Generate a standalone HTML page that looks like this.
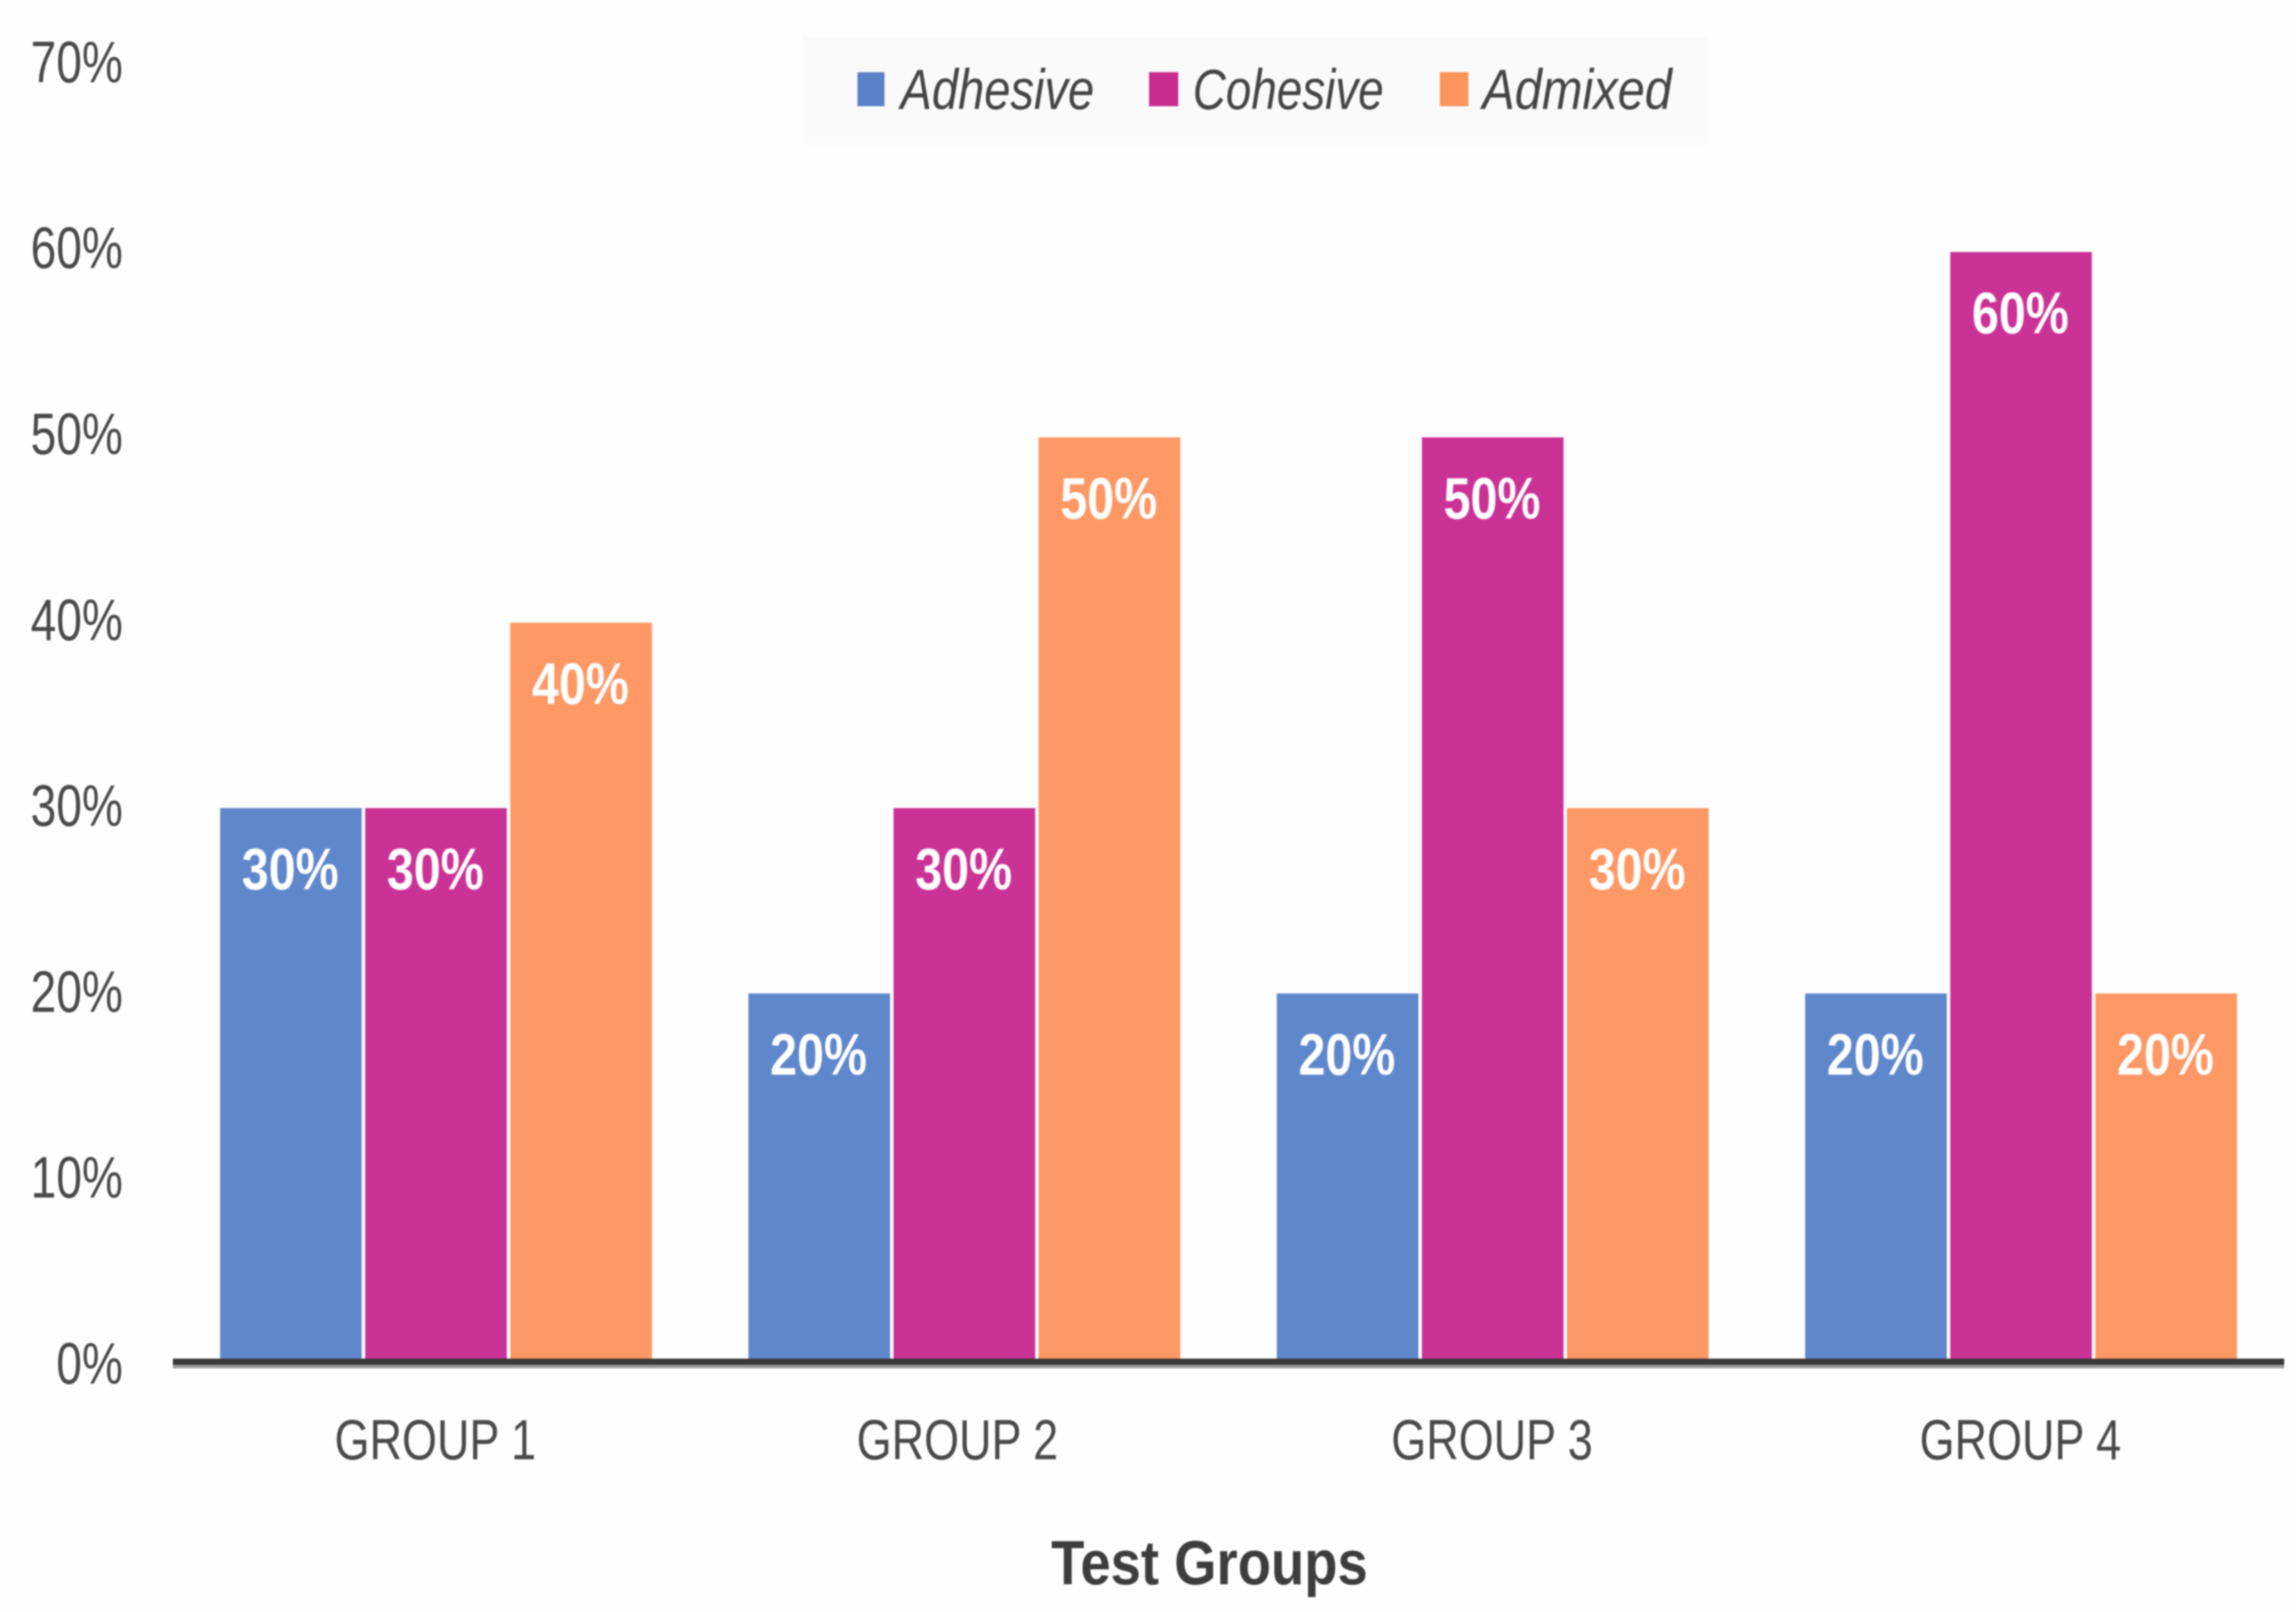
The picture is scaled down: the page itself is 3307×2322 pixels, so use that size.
<!DOCTYPE html>
<html>
<head>
<meta charset="utf-8">
<title>Test Groups Failure Modes</title>
<style>
html,body{margin:0;padding:0;background:#fefefe;width:3307px;height:2322px;overflow:hidden}
svg{display:block;filter:blur(1px)}
text{font-family:"Liberation Sans",sans-serif}
</style>
</head>
<body>
<svg id="chart" xmlns="http://www.w3.org/2000/svg" width="3307" height="2322" viewBox="0 0 3307 2322">
  <rect x="0" y="0" width="3307" height="2322" fill="#fefefe"/>
  <g id="y-axis"></g>
  <g id="bars"></g>
  <g id="x-axis">
    <rect x="249" y="1957" width="3041" height="14" fill="#fefefe"/>
    <rect x="249" y="1957" width="3041" height="9" fill="#383838"/>
    <rect x="249" y="1966" width="3041" height="5" fill="#9c9c9c"/>
  </g>
  <text x="1514" y="2282" font-size="90" font-weight="bold" fill="#3d3d3d" textLength="456" lengthAdjust="spacingAndGlyphs">Test Groups</text>
  <g>
    <rect x="1154" y="53" width="1303" height="155" fill="#fafafa"/>
    <g>
      <rect x="1235" y="104" width="39" height="49" fill="#5b82c8"/>
      <text x="1297" y="157" font-size="82" font-style="italic" fill="#454545" textLength="279" lengthAdjust="spacingAndGlyphs">Adhesive</text>
    </g>
    <g>
      <rect x="1655" y="104" width="42" height="49" fill="#c82c8f"/>
      <text x="1718" y="157" font-size="82" font-style="italic" fill="#454545" textLength="275" lengthAdjust="spacingAndGlyphs">Cohesive</text>
    </g>
    <g>
      <rect x="2074" y="104" width="41" height="49" fill="#fd9459"/>
      <text x="2135" y="157" font-size="82" font-style="italic" fill="#454545" textLength="273" lengthAdjust="spacingAndGlyphs">Admixed</text>
    </g>
  </g>
</svg>
<script>
const categories = ["GROUP 1", "GROUP 2", "GROUP 3", "GROUP 4"];
const adhesive = [30, 20, 20, 20];
const cohesive = [30, 30, 50, 60];
const admixed = [40, 50, 30, 20];
const yTickValues = [0, 10, 20, 30, 40, 50, 60, 70];

const NS = "http://www.w3.org/2000/svg";
const seriesNames = ["adhesive", "cohesive", "admixed"];
const seriesValues = [adhesive, cohesive, admixed];
const seriesColors = ["#5f87cc", "#cb3296", "#fe9865"];

const barBaseY = 1965;
const unitBarHeight = 26.7;
function yBar(v) { return barBaseY - v * unitBarHeight; }
function yTickBaseline(v) { return 1993 - v * 26.78; }
function xBar(groupIndex, seriesIndex) { return 317 + groupIndex * 761 + seriesIndex * 209; }
const barWidth = 204;
function xCategory(groupIndex) { return xBar(groupIndex, 1) + barWidth / 2 - 1 - (groupIndex === 1 ? 9 : 0); }

function makeText(str, x, y, size, fill, bold, scaleX) {
  const t = document.createElementNS(NS, "text");
  t.setAttribute("transform", "translate(" + x + " " + y + ") scale(" + scaleX + " 1)");
  t.setAttribute("text-anchor", "middle");
  t.setAttribute("font-size", size);
  t.setAttribute("fill", fill);
  if (bold) t.setAttribute("font-weight", "bold");
  t.textContent = str;
  return t;
}

const yAxis = document.getElementById("y-axis");
yTickValues.forEach(function (v) {
  const label = makeText(v + "%", 0, 0, 84, "#4a4a4a", false, 0.79);
  label.setAttribute("text-anchor", "end");
  label.setAttribute("transform", "translate(177 " + yTickBaseline(v) + ") scale(0.79 1)");
  
  
  yAxis.appendChild(label);
});

const xAxis = document.getElementById("x-axis");
categories.forEach(function (c, i) {
  const label = makeText(c, xCategory(i), 2102, 82, "#4a4a4a", false, 0.79);
  
  
  xAxis.appendChild(label);
});

const barsGroup = document.getElementById("bars");
categories.forEach(function (c, i) {
  seriesValues.forEach(function (values, s) {
    const v = values[i];
    const r = document.createElementNS(NS, "rect");
    r.setAttribute("x", xBar(i, s));
    r.setAttribute("y", yBar(v));
    r.setAttribute("width", barWidth);
    r.setAttribute("height", barBaseY - yBar(v));
    r.setAttribute("fill", seriesColors[s]);
    
    
    barsGroup.appendChild(r);

    const label = makeText(v + "%", xBar(i, s) + barWidth / 2 - 1, yBar(v) + 117, 84, "#ffffff", true, 0.83);
    
    
    barsGroup.appendChild(label);
  });
});
</script>
</body>
</html>
